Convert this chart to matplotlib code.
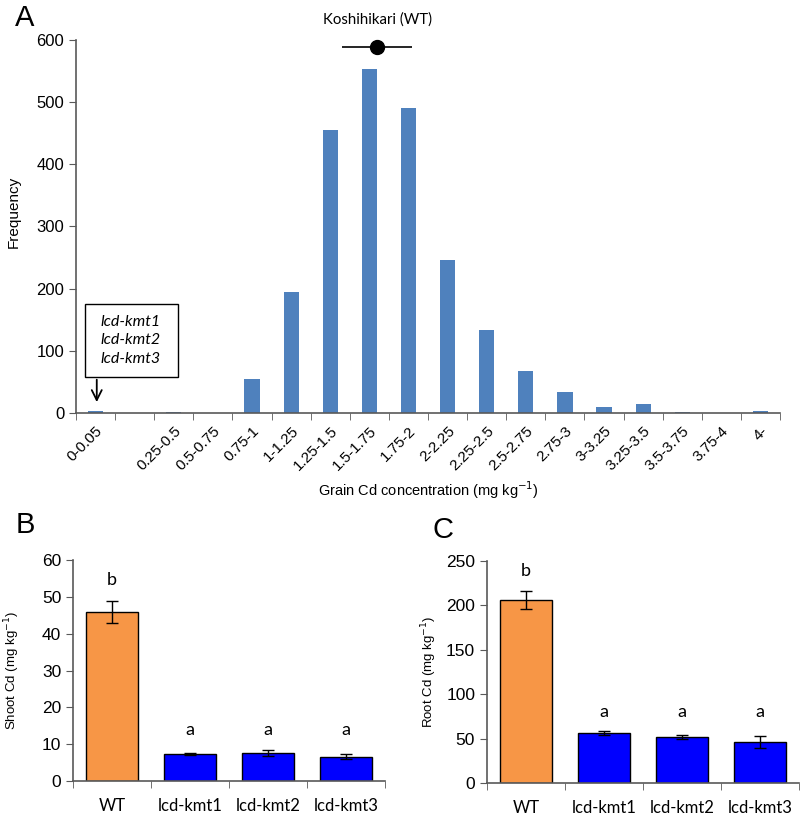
import matplotlib
matplotlib.use("Agg")
import matplotlib.pyplot as plt
from matplotlib.patches import Rectangle
import numpy as np

plt.rcParams['font.family'] = ['Liberation Sans', 'DejaVu Sans']

# ---- Panel A data ----
bins = ['0-0.05', '', '0.25-0.5', '0.5-0.75', '0.75-1', '1-1.25', '1.25-1.5',
        '1.5-1.75', '1.75-2', '2-2.25', '2.25-2.5', '2.5-2.75', '2.75-3',
        '3-3.25', '3.25-3.5', '3.5-3.75', '3.75-4', '4-']
frequency = [3, 0, 1, 0, 54, 194, 455, 553, 490, 246, 134, 67, 33, 10, 14, 1, 0, 3]
wt_grain_pos = 7.2        # Koshihikari (WT) position on the bin axis
wt_grain_range = 0.9      # half range

# ---- Panel B / C data ----
lines = ['WT', 'lcd-kmt1', 'lcd-kmt2', 'lcd-kmt3']
shoot_cd = [45.9, 7.3, 7.5, 6.6]
shoot_err = [2.9, 0.2, 0.8, 0.6]
shoot_letters = ['b', 'a', 'a', 'a']
root_cd = [206, 56, 51.5, 46]
root_err = [10.5, 2, 2, 7]
root_letters = ['b', 'a', 'a', 'a']
bar_colors = ['#F79646', '#0000FF', '#0000FF', '#0000FF']

calibri = ['Lato', 'DejaVu Sans']
spine_col = '#595959'

fig = plt.figure(figsize=(8.02, 8.15), dpi=100)

# ================= Panel A =================
axA = fig.add_axes([0.0948, 0.4933, 0.8778, 0.4577])
x = np.arange(len(bins))
axA.bar(x, frequency, width=0.39, color='#4F81BD')
axA.set_xlim(-0.5, len(bins) - 0.5)
axA.set_ylim(0, 600)
axA.set_yticks(np.arange(0, 601, 100))
axA.set_xticks(x)
axA.set_xticklabels(bins, rotation=45, ha='right', rotation_mode='anchor', fontsize=11)
axA.set_xticks(np.arange(-0.5, len(bins)), minor=True)
axA.tick_params(axis='x', which='major', length=0, pad=8)
axA.tick_params(axis='x', which='minor', length=5, direction='out', color=spine_col)
axA.tick_params(axis='y', length=5, direction='out', color=spine_col, labelsize=12)
for s in ['top', 'right']:
    axA.spines[s].set_visible(False)
for s in ['left', 'bottom']:
    axA.spines[s].set_color(spine_col)
    axA.spines[s].set_linewidth(1.2)

# WT marker
axA.errorbar([wt_grain_pos], [589], xerr=[wt_grain_range], fmt='o', color='black',
             ms=10, elinewidth=1.2, capsize=0, clip_on=False, zorder=5)
axA.text(wt_grain_pos, 633, 'Koshihikari (WT)', ha='center', va='center',
         fontsize=10.8, family=calibri, clip_on=False)

# Mutant annotation box
axA.add_patch(Rectangle((-0.28, 58), 2.38, 117, fill=True, fc='white',
                        ec='black', lw=1, zorder=4))
axA.text(0.9, 117, 'lcd-kmt1\nlcd-kmt2\nlcd-kmt3', ha='center', va='center',
         fontsize=11.5, style='italic', family=calibri, linespacing=1.4, zorder=5)
axA.annotate('', xy=(0.03, 13), xytext=(0.03, 58),
             arrowprops=dict(arrowstyle='->', lw=1.3, color='black', mutation_scale=18))

fig.text(428 / 802, 1 - 490 / 815, 'Grain Cd concentration (mg kg$^{-1}$)',
         ha='center', va='center', fontsize=10.5)
fig.text(14 / 802, 1 - 212 / 815, 'Frequency', ha='center', va='center',
         rotation=90, fontsize=11)
fig.text(25 / 802, 1 - 18 / 815, 'A', ha='center', va='center', fontsize=21)


def panel(ax, vals, errs, letters, ymax, step, ylabel, letter_y_b, letter_y_a):
    xb = np.arange(len(lines))
    ax.bar(xb, vals, width=0.66, color=bar_colors, edgecolor='black', linewidth=1)
    ax.errorbar(xb, vals, yerr=errs, fmt='none', ecolor='black', elinewidth=1,
                capsize=4, capthick=1)
    for xi, lt in zip(xb, letters):
        ax.text(xi, letter_y_b if lt == 'b' else letter_y_a, lt, ha='center',
                va='center', fontsize=13, family=calibri)
    ax.set_xlim(-0.5, len(lines) - 0.5)
    ax.set_ylim(0, ymax)
    ax.set_yticks(np.arange(0, ymax + 1, step))
    ax.set_xticks(xb)
    ax.set_xticklabels(lines, fontsize=12, family=calibri)
    ax.set_xticks(np.arange(-0.5, len(lines)), minor=True)
    ax.tick_params(axis='x', which='major', length=0, pad=12)
    ax.tick_params(axis='x', which='minor', length=5, direction='out', color=spine_col)
    ax.tick_params(axis='y', length=5, direction='out', color=spine_col, labelsize=12.5)
    for s in ['top', 'right']:
        ax.spines[s].set_visible(False)
    for s in ['left', 'bottom']:
        ax.spines[s].set_color(spine_col)
        ax.spines[s].set_linewidth(1.2)
    ax.set_ylabel(ylabel, fontsize=9.5)


axB = fig.add_axes([0.091, 0.0417, 0.389, 0.2712])
panel(axB, shoot_cd, shoot_err, shoot_letters, 60, 10,
      'Shoot Cd (mg kg$^{-1}$)', 54.6, 13.8)
axB.yaxis.set_label_coords(-0.163, 0.5)
fig.text(25 / 802, 1 - 525 / 815, 'B', ha='center', va='center', fontsize=21)

axC = fig.add_axes([0.6072, 0.0393, 0.3891, 0.2724])
panel(axC, root_cd, root_err, root_letters, 250, 50,
      'Root Cd (mg kg$^{-1}$)', 239, 80)
axC.yaxis.set_label_coords(-0.154, 0.5)
fig.text(443 / 802, 1 - 530 / 815, 'C', ha='center', va='center', fontsize=21)

fig.savefig('out.png', dpi=100)
